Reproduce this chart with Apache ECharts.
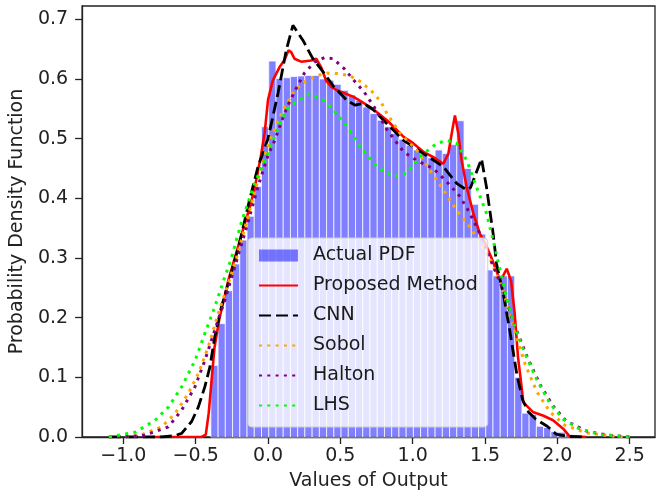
<!DOCTYPE html>
<html>
<head>
<meta charset="utf-8">
<script src="https://cdn.jsdelivr.net/npm/echarts@6/dist/echarts.min.js"></script>
<style>
html,body{margin:0;padding:0;background:#fff;}
#chart{width:656px;height:497px;}
</style>
</head>
<body>
<div id="chart"></div>
<script>
// ---- data ----
const binStart = -0.395;
const binWidth = 0.05;
const histHeights = [0.12,0.19,0.245,0.29,0.33,0.37,0.42,0.52,0.63,0.601,
  0.602,0.604,0.605,0.606,0.606,0.600,0.598,0.591,0.581,0.573,
  0.564,0.553,0.542,0.531,0.520,0.509,0.499,0.489,0.481,0.474,
  0.468,0.481,0.475,0.49,0.530,0.45,0.39,0.34,0.28,0.27,
  0.27,0.27,0.10,0.04,0.038,0.018,0.016,0.009,0.008,0.004];

const proposed = [[-0.80,0],[-0.46,0],[-0.43,0.004],[-0.41,0.04],[-0.39,0.095],[-0.37,0.15],[-0.335,0.20],[-0.30,0.235],[-0.275,0.262],[-0.23,0.30],[-0.17,0.35],[-0.12,0.39],[-0.09,0.42],[-0.05,0.47],[-0.023,0.51],[0.0,0.565],[0.034,0.598],[0.08,0.620],[0.114,0.632],[0.142,0.648],[0.16,0.645],[0.183,0.634],[0.229,0.629],[0.298,0.631],[0.333,0.634],[0.367,0.620],[0.40,0.598],[0.436,0.587],[0.477,0.581],[0.592,0.570],[0.707,0.553],[0.822,0.531],[0.90,0.512],[0.937,0.503],[0.988,0.495],[1.005,0.492],[1.074,0.478],[1.15,0.468],[1.212,0.458],[1.247,0.475],[1.27,0.509],[1.292,0.539],[1.315,0.509],[1.338,0.464],[1.373,0.419],[1.419,0.375],[1.464,0.341],[1.50,0.325],[1.545,0.30],[1.60,0.265],[1.625,0.27],[1.65,0.282],[1.68,0.262],[1.705,0.207],[1.728,0.134],[1.745,0.10],[1.765,0.058],[1.83,0.042],[1.90,0.036],[1.97,0.028],[2.04,0.014],[2.085,0.001],[2.2,0]];

const cnn = [[-1.1,0],[-0.735,0],[-0.65,0.002],[-0.597,0.006],[-0.528,0.026],[-0.482,0.05],[-0.437,0.084],[-0.402,0.117],[-0.368,0.168],[-0.322,0.218],[-0.253,0.276],[-0.20,0.322],[-0.13,0.395],[-0.069,0.453],[0,0.50],[0.069,0.576],[0.126,0.648],[0.172,0.690],[0.241,0.665],[0.31,0.634],[0.39,0.609],[0.455,0.587],[0.546,0.564],[0.603,0.556],[0.661,0.559],[0.73,0.548],[0.822,0.525],[0.937,0.497],[1.074,0.475],[1.212,0.453],[1.304,0.425],[1.373,0.414],[1.40,0.418],[1.419,0.430],[1.476,0.466],[1.51,0.419],[1.556,0.341],[1.58,0.29],[1.63,0.235],[1.67,0.18],[1.72,0.105],[1.76,0.062],[1.80,0.042],[1.85,0.030],[1.93,0.018],[1.99,0.005],[2.07,0.001],[2.2,0]];

const sobol = [[-1.1,0],[-0.95,0.001],[-0.872,0.004],[-0.735,0.017],[-0.643,0.039],[-0.551,0.073],[-0.482,0.106],[-0.413,0.151],[-0.344,0.207],[-0.275,0.257],[-0.218,0.30],[-0.15,0.36],[-0.07,0.43],[-0.012,0.481],[0.023,0.503],[0.057,0.523],[0.103,0.548],[0.138,0.562],[0.183,0.581],[0.252,0.595],[0.344,0.606],[0.41,0.61],[0.48,0.609],[0.562,0.606],[0.643,0.595],[0.723,0.578],[0.78,0.562],[0.822,0.542],[0.913,0.509],[1.028,0.481],[1.12,0.447],[1.212,0.414],[1.304,0.380],[1.395,0.352],[1.469,0.324],[1.533,0.300],[1.579,0.274],[1.625,0.246],[1.70,0.18],[1.78,0.12],[1.86,0.075],[1.95,0.042],[2.05,0.02],[2.2,0.007],[2.4,0.001],[2.5,0]];

const halton = [[-1.1,0],[-0.95,0.001],[-0.85,0.003],[-0.689,0.017],[-0.597,0.045],[-0.505,0.084],[-0.437,0.128],[-0.368,0.179],[-0.299,0.229],[-0.23,0.285],[-0.15,0.35],[-0.069,0.42],[0,0.472],[0.046,0.497],[0.092,0.528],[0.138,0.556],[0.172,0.573],[0.218,0.595],[0.252,0.610],[0.321,0.628],[0.39,0.636],[0.45,0.634],[0.528,0.617],[0.596,0.597],[0.665,0.578],[0.734,0.553],[0.822,0.515],[0.937,0.478],[1.03,0.463],[1.143,0.45],[1.235,0.428],[1.327,0.403],[1.395,0.375],[1.464,0.341],[1.55,0.29],[1.62,0.25],[1.70,0.19],[1.79,0.135],[1.88,0.088],[1.97,0.052],[2.06,0.027],[2.2,0.01],[2.35,0.003],[2.5,0]];

const lhs = [[-1.1,0],[-0.918,0.008],[-0.781,0.028],[-0.689,0.05],[-0.597,0.084],[-0.505,0.128],[-0.437,0.173],[-0.368,0.218],[-0.299,0.268],[-0.253,0.30],[-0.184,0.36],[-0.10,0.42],[-0.04,0.455],[0.011,0.481],[0.046,0.503],[0.08,0.525],[0.126,0.548],[0.195,0.562],[0.287,0.575],[0.379,0.565],[0.436,0.553],[0.546,0.52],[0.638,0.486],[0.753,0.453],[0.868,0.436],[0.959,0.442],[1.051,0.47],[1.166,0.492],[1.235,0.497],[1.304,0.492],[1.373,0.464],[1.441,0.419],[1.51,0.375],[1.556,0.33],[1.648,0.235],[1.70,0.19],[1.767,0.145],[1.86,0.095],[1.95,0.056],[2.04,0.03],[2.15,0.014],[2.3,0.004],[2.5,0]];

const xTicks = [-1.0,-0.5,0.0,0.5,1.0,1.5,2.0,2.5];
const yTicks = [0.0,0.1,0.2,0.3,0.4,0.5,0.6,0.7];
const names = ['Actual PDF','Proposed Method','CNN','Sobol','Halton','LHS'];

// ---- chart ----
const histData = histHeights.map((h, k) => [binStart + k * binWidth, binStart + (k + 1) * binWidth, h]);
const FONT = 'DejaVu Sans';
const AX = '#222';
const fmt = v => (v < 0 ? '\u2212' : '') + Math.abs(v).toFixed(1);

const chart = echarts.init(document.getElementById('chart'), null, {renderer: 'canvas'});
const dotted = [3, 5.3];
chart.setOption({
  animation: false,
  backgroundColor: '#fff',
  grid: {left: 80, right: 1, top: 6, bottom: 60, show: true, borderColor: AX, borderWidth: 1.3, backgroundColor: 'transparent'},
  xAxis: {
    type: 'value', min: -1.285, max: 2.675,
    name: 'Values of Output', nameLocation: 'middle', nameGap: 35,
    nameTextStyle: {fontFamily: FONT, fontSize: 19, color: AX},
    axisLine: {show: true, onZero: false, lineStyle: {color: AX, width: 1.3}},
    axisTick: {show: true, length: 7, lineStyle: {color: AX, width: 1.3}, customValues: xTicks},
    axisLabel: {fontFamily: FONT, fontSize: 19, color: AX, margin: 10, customValues: xTicks, formatter: fmt},
    splitLine: {show: false}
  },
  yAxis: {
    type: 'value', min: 0, max: 0.7223,
    name: 'Probability Density Function', nameLocation: 'middle', nameGap: 53,
    nameTextStyle: {fontFamily: FONT, fontSize: 19, color: AX},
    axisLine: {show: true, onZero: false, lineStyle: {color: AX, width: 1.3}},
    axisTick: {show: true, length: 7, lineStyle: {color: AX, width: 1.3}, customValues: yTicks},
    axisLabel: {fontFamily: FONT, fontSize: 19, color: AX, margin: 14, customValues: yTicks, formatter: v => v.toFixed(1)},
    splitLine: {show: false}
  },
  legend: {
    orient: 'vertical', left: 248, top: 238,
    padding: [8, 10, 12, 10], itemGap: 11, itemWidth: 39, itemHeight: 12,
    backgroundColor: 'rgba(255,255,255,0.8)', borderColor: '#cfcfcf', borderWidth: 1, borderRadius: 4,
    textStyle: {fontFamily: FONT, fontSize: 19, color: '#1a1a1a', padding: [0, 0, 0, 10]},
    data: [
      {name: names[0], icon: 'rect'},
      {name: names[1], itemStyle: {opacity: 0}},
      {name: names[2], itemStyle: {opacity: 0}},
      {name: names[3], itemStyle: {opacity: 0}},
      {name: names[4], itemStyle: {opacity: 0}},
      {name: names[5], itemStyle: {opacity: 0}}
    ]
  },
  series: [
    {
      name: names[0], type: 'custom', data: histData,
      encode: {x: [0, 1], y: 2},
      itemStyle: {color: 'rgba(0,0,255,0.5)'},
      renderItem: function (params, api) {
        const p0 = api.coord([api.value(0), api.value(2)]);
        const p1 = api.coord([api.value(1), 0]);
        return {type: 'rect', shape: {x: p0[0], y: p0[1], width: p1[0] - p0[0], height: p1[1] - p0[1]},
          style: {fill: 'rgba(0,0,255,0.5)', stroke: 'rgba(255,255,255,0.75)', lineWidth: 1}};
      }
    },
    {name: names[1], type: 'line', data: proposed, symbol: 'none', showSymbol: false, color: '#ff0000',
      lineStyle: {color: '#ff0000', width: 2.6}},
    {name: names[2], type: 'line', data: cnn, symbol: 'none', showSymbol: false, color: '#000000',
      lineStyle: {color: '#000000', width: 2.8, type: [12, 5], cap: 'butt'}},
    {name: names[3], type: 'line', data: sobol, symbol: 'none', showSymbol: false, color: '#ffa500',
      lineStyle: {color: '#ffa500', width: 3, type: dotted, cap: 'butt'}},
    {name: names[4], type: 'line', data: halton, symbol: 'none', showSymbol: false, color: '#800080',
      lineStyle: {color: '#800080', width: 3, type: dotted, cap: 'butt'}},
    {name: names[5], type: 'line', data: lhs, symbol: 'none', showSymbol: false, color: '#00ff00',
      lineStyle: {color: '#00ff00', width: 3, type: dotted, cap: 'butt'}}
  ]
});
</script>
</body>
</html>
